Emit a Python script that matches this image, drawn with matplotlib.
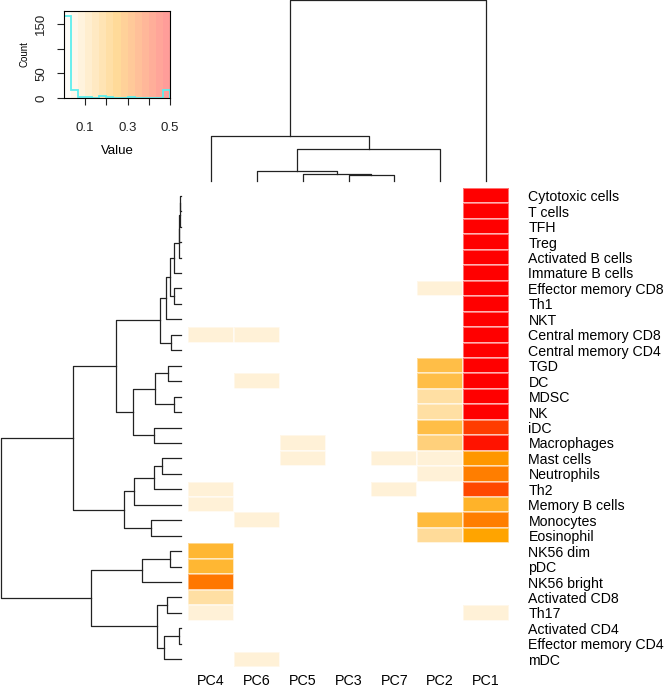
import numpy as np
import matplotlib
matplotlib.use("Agg")
import matplotlib.pyplot as plt
from matplotlib.colors import LinearSegmentedColormap

plt.rcParams['font.family'] = ['Liberation Sans', 'DejaVu Sans']

# ---- data ----
col_labels = ["PC4", "PC6", "PC5", "PC3", "PC7", "PC2", "PC1"]
row_labels = ["Cytotoxic cells", "T cells", "TFH", "Treg", "Activated B cells",
              "Immature B cells", "Effector memory CD8", "Th1", "NKT",
              "Central memory CD8", "Central memory CD4", "TGD", "DC", "MDSC",
              "NK", "iDC", "Macrophages", "Mast cells", "Neutrophils", "Th2",
              "Memory B cells", "Monocytes", "Eosinophil", "NK56 dim", "pDC",
              "NK56 bright", "Activated CD8", "Th17", "Activated CD4",
              "Effector memory CD4", "mDC"]

# one row per cell type, columns in the order of col_labels
values = [
    [0, 0, 0, 0, 0, 0, 0.5],           # Cytotoxic cells
    [0, 0, 0, 0, 0, 0, 0.5],           # T cells
    [0, 0, 0, 0, 0, 0, 0.5],           # TFH
    [0, 0, 0, 0, 0, 0, 0.5],           # Treg
    [0, 0, 0, 0, 0, 0, 0.5],           # Activated B cells
    [0, 0, 0, 0, 0, 0, 0.5],           # Immature B cells
    [0, 0, 0, 0, 0, 0.04, 0.5],        # Effector memory CD8
    [0, 0, 0, 0, 0, 0, 0.5],           # Th1
    [0, 0, 0, 0, 0, 0, 0.5],           # NKT
    [0.04, 0.04, 0, 0, 0, 0, 0.5],     # Central memory CD8
    [0, 0, 0, 0, 0, 0, 0.5],           # Central memory CD4
    [0, 0, 0, 0, 0, 0.18, 0.5],        # TGD
    [0, 0.04, 0, 0, 0, 0.18, 0.5],     # DC
    [0, 0, 0, 0, 0, 0.09, 0.5],        # MDSC
    [0, 0, 0, 0, 0, 0.09, 0.5],        # NK
    [0, 0, 0, 0, 0, 0.18, 0.41],       # iDC
    [0, 0, 0.04, 0, 0, 0.13, 0.47],    # Macrophages
    [0, 0, 0.04, 0, 0.04, 0.04, 0.27], # Mast cells
    [0, 0, 0, 0, 0, 0.04, 0.31],       # Neutrophils
    [0.04, 0, 0, 0, 0.04, 0, 0.39],    # Th2
    [0.04, 0, 0, 0, 0, 0, 0.21],       # Memory B cells
    [0, 0.04, 0, 0, 0, 0.19, 0.31],    # Monocytes
    [0, 0, 0, 0, 0, 0.1, 0.25],        # Eosinophil
    [0.2, 0, 0, 0, 0, 0, 0],           # NK56 dim
    [0.2, 0, 0, 0, 0, 0, 0],           # pDC
    [0.32, 0, 0, 0, 0, 0, 0],          # NK56 bright
    [0.09, 0, 0, 0, 0, 0, 0],          # Activated CD8
    [0.04, 0, 0, 0, 0, 0, 0.04],       # Th17
    [0, 0, 0, 0, 0, 0, 0],             # Activated CD4
    [0, 0, 0, 0, 0, 0, 0],             # Effector memory CD4
    [0, 0.04, 0, 0, 0, 0, 0],          # mDC
]

# dendrograms, hclust style: negative = leaf (1-based, display order), positive = earlier merge
row_merge = [(-1, -2, 0.7), (1, -3, 1.0), (2, -4, 1.8), (3, -5, 2.5), (4, -6, 7),
             (-7, -8, 7), (5, 6, 11), (7, -9, 15), (-10, -11, 10), (8, 9, 21),
             (-12, -13, 13), (-14, -15, 7), (11, 12, 26), (-16, -17, 27), (13, 14, 48),
             (10, 15, 65), (-18, -19, 19), (17, -20, 27), (18, -21, 47), (-22, -23, 30),
             (19, 20, 57), (16, 21, 108), (-24, -25, 11), (23, -26, 39), (-27, -28, 14),
             (-29, -30, 2), (26, -31, 17), (25, 27, 24), (24, 28, 90), (22, 29, 180)]
col_merge = [(-4, -5, 6), (-3, 1, 7), (-2, 2, 10), (3, -6, 32), (-1, 4, 45), (5, -7, 181)]

key_breaks = np.linspace(0, 0.5, 16)


def dendro_segments(merges):
    pos, hts, segs = {}, {}, []

    def get(k):
        if k < 0:
            return -k - 0.5, 0.0
        return pos[k], hts[k]

    for m, (a, b, h) in enumerate(merges, start=1):
        pa, ha = get(a)
        pb, hb = get(b)
        segs.append(([pa, pa, pb, pb], [ha, h, h, hb]))
        pos[m] = (pa + pb) / 2
        hts[m] = h
    return segs


vals = np.array(values)
nrow, ncol = vals.shape
cmap = LinearSegmentedColormap.from_list("wor", ["white", "orange", "red"])

W, H = 672, 691
fig = plt.figure(figsize=(W / 100, H / 100), dpi=100)

def px(x0, y0, x1, y1):
    return [x0 / W, 1 - y1 / H, (x1 - x0) / W, (y1 - y0) / H]

# heatmap
ax = fig.add_axes(px(188, 188, 509, 667))
ax.pcolormesh(np.arange(ncol + 1), np.arange(nrow + 1), vals, cmap=cmap,
              vmin=0, vmax=0.5, edgecolors=(1, 1, 1, 0.45), linewidth=0.25)
ax.set_xlim(0, ncol)
ax.set_ylim(nrow, 0)
ax.set_xticks(np.arange(ncol) + 0.5)
ax.set_xticklabels(col_labels, fontsize=10.3)
ax.set_yticks(np.arange(nrow) + 0.5)
ax.set_yticklabels(row_labels, fontsize=10.2, ha="left")
ax.yaxis.tick_right()
ax.tick_params(axis="x", length=0, pad=5)
ax.tick_params(axis="y", length=0, pad=14)
for s in ax.spines.values():
    s.set_visible(False)

# column dendrogram
axt = fig.add_axes(px(188, 0, 509, 181))
for xs, ys in dendro_segments(col_merge):
    axt.plot(xs, ys, color="#222222", lw=0.9, clip_on=False)
axt.set_xlim(0, ncol)
axt.set_ylim(0, 181.5)
axt.axis("off")

# row dendrogram
axl = fig.add_axes(px(0, 188, 181, 667))
for ys, xs in dendro_segments(row_merge):
    axl.plot(xs, ys, color="#222222", lw=0.9, clip_on=False)
axl.set_ylim(nrow, 0)
axl.set_xlim(181.5, 0)
axl.axis("off")

# colour key with histogram
axk = fig.add_axes(px(64, 11, 170, 98))
grad = (key_breaks[:-1] + key_breaks[1:]) / 2
axk.imshow(grad[np.newaxis, :], cmap=cmap, vmin=0, vmax=0.5, alpha=0.4,
           extent=[0, 0.5, 0, 176], aspect="auto", interpolation="nearest")
counts, edges = np.histogram(vals.ravel(), bins=key_breaks)
axk.stairs(counts, edges, color="#5eeeee", lw=1.3)
axk.set_xlim(0, 0.5)
axk.set_ylim(0, 176)
axk.set_xticks([0.1, 0.2, 0.3, 0.4, 0.5])
axk.set_xticklabels(["0.1", "", "0.3", "", "0.5"], fontsize=9.5)
axk.set_yticks([0, 50, 100, 150])
axk.set_yticklabels(["0", "50", "", "150"], fontsize=9.5, rotation=90, va="center")
axk.tick_params(length=5, width=0.8, colors="#222222")
axk.tick_params(axis="x", pad=12)
axk.tick_params(axis="y", pad=7)
axk.set_xlabel("Value", fontsize=9.5, labelpad=8)
axk.set_ylabel("Count", fontsize=7, labelpad=4)
for s in axk.spines.values():
    s.set_linewidth(0.8)

fig.savefig("out.png", dpi=100)
